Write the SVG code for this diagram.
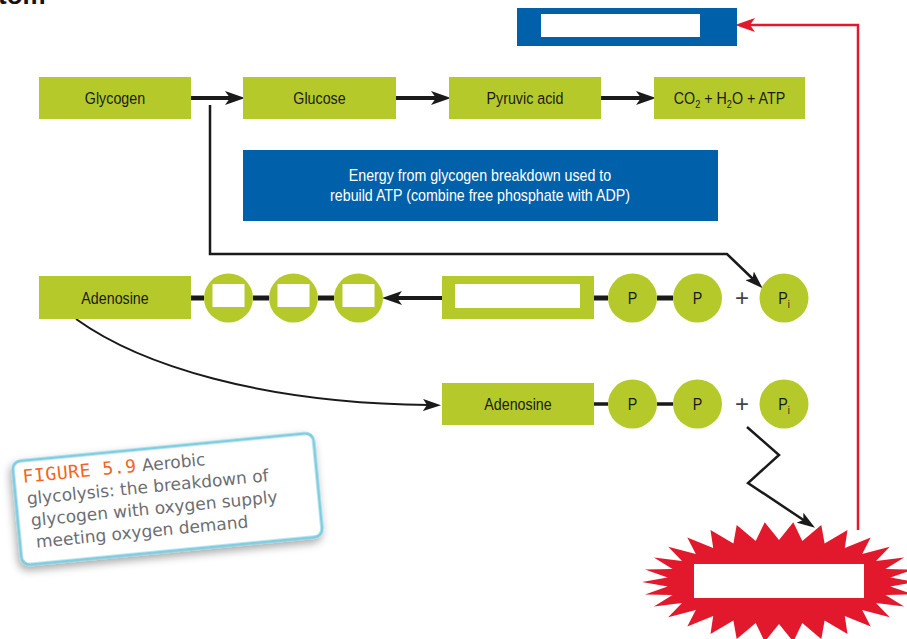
<svg xmlns="http://www.w3.org/2000/svg" width="907" height="639" viewBox="0 0 907 639">
<style>
.g{fill:#b5ca2a}
.b{fill:#0061aa}
.w{fill:#ffffff}
.lbl{font-family:'Liberation Sans Narrow','Liberation Sans',Arial,sans-serif;font-size:17px;fill:#1a1a1a;text-anchor:middle;transform-box:fill-box;transform-origin:center;transform:scaleX(0.84)}
.wt{font-family:'Liberation Sans Narrow','Liberation Sans',Arial,sans-serif;font-size:16px;fill:#ffffff;text-anchor:middle;transform-box:fill-box;transform-origin:center;transform:scaleX(0.89)}
.plus{font-family:'Liberation Sans',Arial,sans-serif;font-size:24px;fill:#444;text-anchor:middle}
.bond{stroke:#1a1a1a;stroke-width:5;fill:none}
.bond2{stroke:#1a1a1a;stroke-width:3.5;fill:none}
.arr{stroke:#1a1a1a;stroke-width:4;fill:none}
.thin{stroke:#1a1a1a;stroke-width:2.5;fill:none}
.cap{font-family:'DejaVu Sans',Verdana,sans-serif;font-size:17px;fill:#6d6e71}
.fig{font-family:'DejaVu Sans Mono',monospace;font-size:18px;fill:#f26522;letter-spacing:0.6px}
</style>
<defs>
<marker id="ah" viewBox="0 0 20 14" markerWidth="20" markerHeight="14" refX="6" refY="7" orient="auto" markerUnits="userSpaceOnUse">
<path d="M0,0 L20,7 L0,14 L5,7 Z" fill="#1a1a1a"/>
</marker>
<marker id="ahs" viewBox="0 0 18 12" markerWidth="18" markerHeight="12" refX="6" refY="6" orient="auto" markerUnits="userSpaceOnUse">
<path d="M0,0 L18,6 L0,12 L4,6 Z" fill="#1a1a1a"/>
</marker>
<marker id="ahr" viewBox="0 0 20 14" markerWidth="20" markerHeight="14" refX="6" refY="7" orient="auto" markerUnits="userSpaceOnUse">
<path d="M0,0 L20,7 L0,14 L5,7 Z" fill="#e2192c"/>
</marker>
<filter id="sh" x="-20%" y="-30%" width="140%" height="160%">
<feDropShadow dx="-2" dy="4" stdDeviation="4" flood-color="#000" flood-opacity="0.35"/>
</filter>
</defs>

<text x="-2" y="4" font-family="'Liberation Sans',Arial,sans-serif" font-size="26" font-weight="bold" fill="#111">tom</text>

<g id="connectors">
<line class="arr" x1="190" y1="98" x2="231" y2="98" marker-end="url(#ah)"/>
<line class="arr" x1="396" y1="98" x2="437" y2="98" marker-end="url(#ah)"/>
<line class="arr" x1="601" y1="98" x2="642" y2="98" marker-end="url(#ah)"/>
<path class="thin" d="M210,105 V254 H727 L754,280" marker-end="url(#ahs)"/>
<line class="arr" x1="442" y1="298" x2="396" y2="298" marker-end="url(#ah)"/>
<path class="bond" d="M191,298 H204 M253,298 H269 M318,298 H334 M594,298 H608 M657,298 H673"/>
<path class="bond2" d="M594,404 H608 M657,404 H673"/>
<path d="M76,319 C140,365 260,403 429,405" stroke="#1a1a1a" stroke-width="2" fill="none" marker-end="url(#ahs)"/>
<path class="thin" d="M747,427 L779,455 L748,483 L805,521" marker-end="url(#ahs)"/>
<path d="M858,530 V25 H749" stroke="#e2192c" stroke-width="2.5" fill="none" marker-end="url(#ahr)"/>
</g>

<g id="atp-box">
<rect class="b" x="517" y="8" width="220" height="38"/>
<rect class="w" x="541" y="14" width="159" height="23"/>
</g>

<g id="glycogen"><rect class="g" x="39" y="77" width="152" height="42"/><text class="lbl" x="115" y="104">Glycogen</text></g>
<g id="glucose"><rect class="g" x="243" y="77" width="153" height="42"/><text class="lbl" x="319.5" y="104">Glucose</text></g>
<g id="pyruvic"><rect class="g" x="449" y="77" width="152" height="42"/><text class="lbl" x="525" y="104">Pyruvic acid</text></g>
<g id="products"><rect class="g" x="654" y="77" width="151" height="42"/><text class="lbl" x="729.5" y="104">CO<tspan dy="4" font-size="11">2</tspan><tspan dy="-4"> + H</tspan><tspan dy="4" font-size="11">2</tspan><tspan dy="-4">O + ATP</tspan></text></g>

<g id="energy-box"><rect class="b" x="243" y="150" width="475" height="71"/>
<text class="wt" x="480" y="181">Energy from glycogen breakdown used to</text>
<text class="wt" x="480" y="201">rebuild ATP (combine free phosphate with ADP)</text></g>

<g id="adenosine1"><rect class="g" x="39" y="276" width="152" height="43"/><text class="lbl" x="115" y="304">Adenosine</text></g>
<g id="phos-a1"><circle class="g" cx="228.5" cy="298" r="24.5"/><rect class="w" x="212.5" y="284" width="32" height="23"/></g>
<g id="phos-a2"><circle class="g" cx="293.5" cy="298" r="24.5"/><rect class="w" x="277.5" y="284" width="32" height="23"/></g>
<g id="phos-a3"><circle class="g" cx="358.5" cy="298" r="24.5"/><rect class="w" x="342.5" y="284" width="32" height="23"/></g>

<g id="hollow-box"><rect class="g" x="442" y="276" width="152" height="43"/><rect class="w" x="455" y="284" width="125" height="24"/></g>
<g id="p1"><circle class="g" cx="632.5" cy="298" r="24.5"/><text class="lbl" x="632.5" y="304">P</text></g>
<g id="p2"><circle class="g" cx="697.5" cy="298" r="24.5"/><text class="lbl" x="697.5" y="304">P</text></g>
<text class="plus" x="742" y="306">+</text>
<g id="pi1"><circle class="g" cx="784" cy="298" r="24.5"/><text class="lbl" x="784" y="304">P<tspan dy="4" font-size="11">i</tspan></text></g>

<g id="adenosine2"><rect class="g" x="442" y="383" width="152" height="42"/><text class="lbl" x="518" y="410">Adenosine</text></g>
<g id="p3"><circle class="g" cx="632.5" cy="404" r="24.5"/><text class="lbl" x="632.5" y="410">P</text></g>
<g id="p4"><circle class="g" cx="697.5" cy="404" r="24.5"/><text class="lbl" x="697.5" y="410">P</text></g>
<text class="plus" x="742" y="412">+</text>
<g id="pi2"><circle class="g" cx="784" cy="404" r="24.5"/><text class="lbl" x="784" y="410">P<tspan dy="4" font-size="11">i</tspan></text></g>

<g id="burst">
<polygon fill="#e2192c" points="916,582 890.4,586.4 913,594.5 885.5,595 904.1,606.4 876,603 889.8,617.3 862.2,610.1 870.7,626.6 844.8,616 847.5,634 824.6,620.4 821.3,639.1 802.3,623.1 793.3,641.7 779,624 764.7,641.7 755.7,623.1 736.7,639.1 733.4,620.4 710.5,634 713.2,616 687.3,626.6 695.8,610.1 668.2,617.3 682,603 653.9,606.4 672.5,595 645,594.5 667.6,586.4 642,582 667.6,577.6 645,569.5 672.5,569 653.9,557.6 682,561 668.2,546.7 695.8,553.9 687.3,537.4 713.2,548 710.5,530 733.4,543.6 736.7,524.9 755.7,540.9 764.7,522.3 779,540 793.3,522.3 802.3,540.9 821.3,524.9 824.6,543.6 847.5,530 844.8,548 870.7,537.4 862.2,553.9 889.8,546.7 876,561 904.1,557.6 885.5,569 913,569.5 890.4,577.6"/>
<rect class="w" x="694" y="564" width="170" height="34"/>
</g>

<g id="caption" transform="translate(167.5,499) rotate(-5.5)">
<rect x="-151" y="-52" width="302" height="104" rx="8" fill="#fff" stroke="#7fcde0" stroke-width="3" filter="url(#sh)"/>
<text class="cap" x="-142" y="-30"><tspan class="fig">FIGURE 5.9</tspan> Aerobic</text>
<text class="cap" x="-140" y="-8">glycolysis: the breakdown of</text>
<text class="cap" x="-138" y="14">glycogen with oxygen supply</text>
<text class="cap" x="-135" y="36">meeting oxygen demand</text>
</g>
</svg>
